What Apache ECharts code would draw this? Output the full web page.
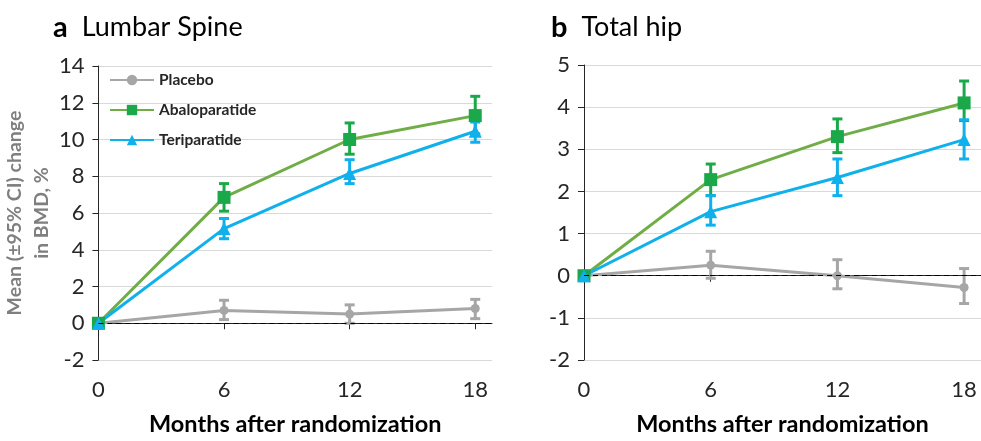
<!DOCTYPE html>
<html><head><meta charset="utf-8">
<script src="https://cdn.jsdelivr.net/npm/echarts@6/dist/echarts.min.js"></script>
<style>html,body{margin:0;padding:0;background:#fff}#c{width:981px;height:441px}</style>
</head><body><div id="c"></div>
<script>
var months = [0, 6, 12, 18];
var seriesNames = ['Placebo', 'Abaloparatide', 'Teriparatide'];
var xTickLabels = [0, 6, 12, 18];

// Lumbar spine
var spinePlacebo = [0, 0.7, 0.5, 0.8];
var spinePlaceboLo = [null, 0.2, 0.0, 0.25];
var spinePlaceboHi = [null, 1.25, 1.0, 1.3];
var spineAbalo = [0, 6.85, 10.0, 11.3];
var spineAbaloLo = [null, 6.1, 9.2, 10.3];
var spineAbaloHi = [null, 7.6, 10.9, 12.35];
var spineTeri = [0, 5.15, 8.15, 10.45];
var spineTeriLo = [null, 4.6, 7.6, 9.85];
var spineTeriHi = [null, 5.7, 8.9, 10.95];

// Total hip
var hipPlacebo = [0, 0.25, 0.0, -0.28];
var hipPlaceboLo = [null, -0.06, -0.31, -0.66];
var hipPlaceboHi = [null, 0.58, 0.38, 0.17];
var hipAbalo = [0, 2.28, 3.3, 4.1];
var hipAbaloLo = [null, 1.9, 2.92, 3.68];
var hipAbaloHi = [null, 2.65, 3.72, 4.62];
var hipTeri = [0, 1.52, 2.33, 3.23];
var hipTeriLo = [null, 1.2, 1.9, 2.77];
var hipTeriHi = [null, 1.9, 2.77, 3.7];

var FONT = 'Lato';
var cPlacebo = '#a6a6a6', cAbaloLine = '#70ad47', cAbalo = '#1aa84a', cTeri = '#0fb0ec';

function pts(vals) { return months.map(function (m, i) { return [m, vals[i]]; }); }
function errPts(lo, hi) {
  var out = [];
  months.forEach(function (m, i) { if (lo[i] !== null) out.push([m, lo[i], hi[i]]); });
  return out;
}
function errRender(color) {
  return function (params, api) {
    var x = api.value(0), lo = api.value(1), hi = api.value(2);
    var a = api.coord([x, lo]), b = api.coord([x, hi]);
    var w = 5, st = { stroke: color, lineWidth: 3 };
    return { type: 'group', children: [
      { type: 'line', shape: { x1: a[0], y1: a[1], x2: b[0], y2: b[1] }, style: st },
      { type: 'line', shape: { x1: a[0] - w, y1: a[1], x2: a[0] + w, y2: a[1] }, style: st },
      { type: 'line', shape: { x1: b[0] - w, y1: b[1], x2: b[0] + w, y2: b[1] }, style: st }
    ]};
  };
}
function errSeries(idx, lo, hi, color) {
  return { type: 'custom', xAxisIndex: idx, yAxisIndex: idx, renderItem: errRender(color),
    data: errPts(lo, hi), encode: { x: 0, y: [1, 2] }, z: 3, silent: true };
}
function lineSeries(idx, name, vals, lineColor, symColor, symbol, size, extra) {
  var s = { type: 'line', name: name, xAxisIndex: idx, yAxisIndex: idx, data: pts(vals),
    symbol: symbol, symbolSize: size, showSymbol: true, z: 4,
    lineStyle: { color: lineColor, width: 3 }, itemStyle: { color: symColor, borderWidth: 0 },
    emphasis: { disabled: true } };
  if (extra) s.markLine = extra;
  return s;
}
var zeroLine = { silent: true, symbol: 'none', label: { show: false },
  lineStyle: { color: '#000', type: [5, 4], width: 1.2 }, data: [{ yAxis: 0 }] };

function xAxis(idx) {
  return { type: 'value', gridIndex: idx, min: 0, max: 18.8, interval: 6,
    axisLine: { lineStyle: { color: '#262626', width: 1 } },
    axisTick: { show: true, length: 6, customValues: xTickLabels, lineStyle: { color: '#262626' } },
    axisLabel: { customValues: xTickLabels, fontFamily: FONT, fontSize: 22, color: '#262626', margin: 19 },
    splitLine: { show: false },
    name: 'Months after randomization', nameLocation: 'middle', nameGap: 52,
    nameTextStyle: { fontFamily: FONT, fontWeight: 'bold', fontSize: 23.5, color: '#000' } };
}
function yAxis(idx, min, max, interval, name) {
  var a = { type: 'value', gridIndex: idx, min: min, max: max, interval: interval,
    axisLine: { show: true, lineStyle: { color: '#262626', width: 1 } },
    axisTick: { show: true, length: 6, lineStyle: { color: '#262626' } },
    axisLabel: { fontFamily: FONT, fontSize: 22, color: '#262626', margin: 14 },
    splitLine: { show: true, lineStyle: { color: '#d9d9d9', width: 1 } } };
  if (name) {
    a.name = name; a.nameLocation = 'middle'; a.nameRotate = 90; a.nameGap = 37;
    a.nameTextStyle = { fontFamily: FONT, fontWeight: 'bold', fontSize: 19.5, color: '#7f7f7f', lineHeight: 27 };
  }
  return a;
}

var titleRich = { a: { fontFamily: FONT, fontWeight: 'bold', fontSize: 29, color: '#000' },
                  s: { fontFamily: FONT, fontWeight: 'normal', fontSize: 27, color: '#000', width: 14 },
                  b: { fontFamily: FONT, fontWeight: 'normal', fontSize: 27, color: '#000' } };
var option = {
  backgroundColor: '#fff',
  animation: false,
  title: [
    { left: 48, top: 8, text: '{a|a}{s| }{b|Lumbar Spine}', textStyle: { rich: titleRich } },
    { left: 546, top: 8, text: '{a|b}{s| }{b|Total hip}', textStyle: { rich: titleRich } }
  ],
  legend: { data: seriesNames, orient: 'vertical', left: 104, top: 67, itemWidth: 44, itemHeight: 13,
    itemGap: 14, selectedMode: false,
    textStyle: { fontFamily: FONT, fontWeight: 'bold', fontSize: 15.5, color: '#262626' } },
  grid: [
    { left: 98, top: 66, width: 394, height: 303 },
    { left: 584, top: 65, width: 399, height: 303 }
  ],
  xAxis: [xAxis(0), xAxis(1)],
  yAxis: [yAxis(0, -2, 14, 2, 'Mean (\u00b195% CI) change\nin BMD, %'), yAxis(1, -2, 5, 1, null)],
  series: [
    errSeries(0, spinePlaceboLo, spinePlaceboHi, cPlacebo),
    errSeries(0, spineAbaloLo, spineAbaloHi, cAbalo),
    errSeries(0, spineTeriLo, spineTeriHi, cTeri),
    lineSeries(0, 'Placebo', spinePlacebo, cPlacebo, cPlacebo, 'circle', 9, zeroLine),
    lineSeries(0, 'Abaloparatide', spineAbalo, cAbaloLine, cAbalo, 'rect', 13),
    lineSeries(0, 'Teriparatide', spineTeri, cTeri, cTeri, 'triangle', 13),
    errSeries(1, hipPlaceboLo, hipPlaceboHi, cPlacebo),
    errSeries(1, hipAbaloLo, hipAbaloHi, cAbalo),
    errSeries(1, hipTeriLo, hipTeriHi, cTeri),
    lineSeries(1, 'Placebo', hipPlacebo, cPlacebo, cPlacebo, 'circle', 9, zeroLine),
    lineSeries(1, 'Abaloparatide', hipAbalo, cAbaloLine, cAbalo, 'rect', 13),
    lineSeries(1, 'Teriparatide', hipTeri, cTeri, cTeri, 'triangle', 13)
  ]
};
var chart = echarts.init(document.getElementById('c'), null, { renderer: 'canvas' });
chart.setOption(option);
</script>
</body></html>
